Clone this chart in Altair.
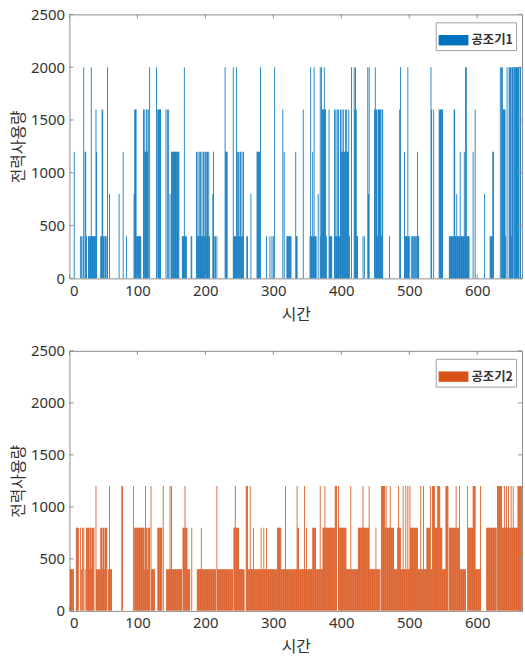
import altair as alt
import numpy as np
import pandas as pd

N = 665
X_MAX = 666
x_ticks = [0, 100, 200, 300, 400, 500, 600]
y_ticks = [0, 500, 1000, 1500, 2000, 2500]

# (start, end, value) runs of 전력사용량 per time step, applied in order (later overrides)
top_segments = [
    (7, 7, 1200), (16, 16, 400), (18, 18, 400), (20, 20, 400), (21, 21, 2000),
    (23, 24, 1200), (25, 25, 400), (28, 31, 400), (32, 32, 2000), (33, 38, 400),
    (39, 39, 1600), (40, 40, 1200), (46, 47, 400), (48, 49, 1600), (50, 50, 400),
    (52, 53, 400), (55, 55, 400), (56, 56, 2000), (59, 59, 800), (73, 73, 800),
    (79, 79, 1200), (84, 84, 400), (95, 95, 800), (96, 98, 1600), (99, 105, 400),
    (109, 110, 1600), (111, 112, 1200), (113, 114, 1600), (115, 115, 1200),
    (116, 116, 1600), (118, 118, 2000), (128, 128, 2000), (130, 134, 1600),
    (142, 142, 1600), (144, 144, 1600), (146, 146, 1600), (148, 148, 800),
    (150, 161, 1200), (166, 172, 400), (169, 169, 2000), (179, 180, 400),
    (187, 206, 400), (187, 187, 1200), (189, 189, 1200), (191, 191, 1200),
    (193, 193, 1200), (195, 195, 1200), (197, 198, 1200), (200, 200, 1200),
    (202, 203, 1200), (205, 205, 1200), (211, 211, 800), (212, 212, 1200),
    (213, 213, 400), (215, 215, 400), (217, 217, 400), (229, 229, 2000),
    (230, 232, 1200), (241, 241, 2000), (242, 245, 400), (246, 246, 2000),
    (247, 256, 400), (247, 247, 1200), (249, 249, 1200), (251, 252, 1200),
    (254, 254, 1200), (256, 256, 1200), (261, 262, 400), (267, 267, 800),
    (276, 280, 1200), (281, 281, 2000), (290, 290, 400), (295, 295, 400),
    (298, 298, 400), (300, 300, 400), (302, 302, 2000), (314, 314, 1600),
    (316, 316, 1200), (320, 326, 400), (333, 333, 1200), (334, 335, 400),
    (344, 344, 1600), (354, 363, 400), (355, 355, 2000), (358, 358, 1200),
    (360, 360, 2000), (366, 366, 800), (369, 369, 2000), (370, 370, 400),
    (371, 371, 2000), (372, 374, 1600), (375, 375, 2000), (376, 377, 1600),
    (378, 378, 400), (382, 382, 1600), (383, 386, 400), (390, 412, 400),
    (390, 390, 1600), (392, 392, 1600), (394, 394, 1600), (396, 396, 1600),
    (399, 399, 1600), (400, 400, 1200), (401, 401, 1600), (402, 402, 1200),
    (403, 403, 1600), (404, 405, 1200), (406, 406, 1600), (407, 407, 1200),
    (408, 408, 1600), (409, 410, 1200), (411, 411, 1600), (415, 415, 2000),
    (419, 419, 2000), (420, 420, 1600), (421, 421, 2000), (422, 422, 1600),
    (423, 424, 400), (432, 432, 400), (434, 434, 400), (439, 439, 2000),
    (440, 440, 800), (441, 441, 2000), (449, 461, 1600), (450, 450, 2000),
    (453, 453, 400), (459, 459, 400), (471, 471, 400), (486, 486, 1600),
    (487, 487, 2000), (493, 493, 1200), (494, 500, 400), (498, 498, 2000),
    (503, 503, 400), (505, 506, 400), (508, 509, 400), (511, 511, 400),
    (512, 512, 1200), (513, 514, 400), (532, 532, 2000), (533, 533, 1600),
    (536, 536, 1600), (544, 549, 1600), (559, 588, 400), (566, 567, 1600),
    (570, 570, 800), (575, 575, 1200), (581, 581, 1200), (583, 584, 2000),
    (594, 594, 1200), (597, 597, 1600), (611, 611, 800), (619, 622, 400),
    (623, 624, 1200), (634, 634, 2000), (636, 637, 2000), (638, 641, 1600),
    (642, 642, 400), (644, 644, 2000), (647, 649, 2000), (650, 650, 400),
    (651, 653, 2000), (655, 661, 2000), (663, 664, 2000),
]

bottom_segments = [
    (1, 6, 400), (10, 13, 800), (16, 16, 800), (18, 18, 400), (19, 19, 800),
    (21, 21, 800), (23, 23, 400), (25, 36, 800), (30, 30, 400), (33, 33, 400),
    (39, 39, 1200), (40, 45, 400), (46, 55, 800), (49, 49, 400), (52, 52, 400),
    (57, 62, 400), (59, 59, 1200), (77, 78, 1200), (94, 94, 1200),
    (96, 118, 800), (110, 110, 400), (115, 115, 400), (112, 112, 1200),
    (120, 120, 1200), (121, 125, 400), (130, 136, 800), (138, 138, 1200),
    (143, 165, 400), (148, 148, 1200), (150, 150, 1200), (167, 173, 800),
    (170, 170, 1200), (174, 177, 400), (180, 180, 800), (188, 215, 400),
    (194, 194, 800), (217, 217, 1200), (218, 240, 400), (242, 249, 800),
    (244, 244, 1200), (250, 257, 400), (260, 262, 1200), (263, 270, 400),
    (266, 266, 1200), (271, 271, 800), (272, 305, 400), (282, 282, 800),
    (286, 286, 800), (290, 290, 800), (306, 311, 800), (312, 317, 400),
    (318, 318, 1200), (319, 357, 400), (335, 335, 1200), (336, 337, 800),
    (346, 346, 1200), (349, 349, 800), (358, 362, 800), (363, 372, 400),
    (369, 369, 1200), (373, 390, 800), (376, 376, 1200), (391, 393, 1200),
    (396, 396, 1200), (397, 407, 800), (408, 424, 400), (414, 414, 1200),
    (425, 440, 800), (432, 432, 1200), (441, 441, 1200), (442, 457, 400),
    (451, 451, 800), (459, 464, 1200), (465, 465, 800), (466, 466, 1200),
    (467, 470, 800), (471, 500, 400), (471, 477, 800), (472, 472, 1200),
    (483, 487, 800), (484, 484, 1200), (491, 491, 1200), (495, 495, 1200),
    (498, 498, 1200), (501, 512, 800), (501, 501, 1200), (513, 530, 400),
    (517, 517, 1200), (521, 521, 1200), (526, 530, 800), (531, 531, 1200),
    (532, 533, 400), (534, 537, 1200), (538, 548, 800), (542, 545, 1200),
    (549, 556, 400), (554, 557, 1200), (559, 574, 800), (569, 569, 1200),
    (574, 574, 1200), (575, 583, 400), (586, 593, 800), (586, 586, 1200),
    (594, 597, 1200), (598, 604, 400), (605, 605, 1200), (614, 628, 800),
    (630, 636, 1200), (637, 665, 800), (640, 640, 1200), (643, 643, 1200),
    (646, 646, 1200), (650, 650, 1200), (653, 653, 1200), (660, 665, 1200),
]

series_names = ["공조기1", "공조기2"]
series_colors = ["#0072BD", "#D95319"]


def expand(segments, name):
    v = np.zeros(N + 1)
    for s, e, val in segments:
        v[s:e + 1] = val
    df = pd.DataFrame({"t": np.arange(1, N + 1), "v": v[1:], "s": name})
    return df[df["v"] > 0]


FRAME = "#8c8c8c"
LABEL_FONT = "Noto Sans"
KR_FONT = "Noto Sans CJK KR"


def panel(df, name, color, W, H):
    xs = alt.Scale(domain=[0, X_MAX], nice=False, zero=False)
    ys = alt.Scale(domain=[0, 2500], nice=False)
    bars = alt.Chart(df).transform_calculate(
        x0="datum.t - 0.6", x1="datum.t + 0.6"
    ).mark_bar(clip=True, strokeWidth=0).encode(
        x=alt.X("x0:Q", scale=xs, axis=alt.Axis(values=x_ticks, title="시간", format="d")),
        x2="x1:Q",
        y=alt.Y("v:Q", scale=ys, axis=alt.Axis(values=y_ticks, title="전력사용량", format="d")),
        y2=alt.datum(0),
        color=alt.Color(
            "s:N",
            scale=alt.Scale(domain=[name], range=[color]),
            legend=alt.Legend(
                title=None, orient="none", legendX=W - 87, legendY=8,
                symbolType="M-1,-0.35H1V0.35H-1Z", symbolSize=900,
                symbolStrokeWidth=0, symbolOpacity=1,
                labelFont=KR_FONT, labelFontSize=12.5, labelFontWeight="bold",
                labelColor="#333333", labelOffset=3,
                fillColor="white", strokeColor="#a0a0a0", padding=3,
            ),
        ),
    )
    ytk = pd.DataFrame({"v": y_ticks})
    xtk = pd.DataFrame({"x0": x_ticks})
    ytl = alt.Chart(ytk).mark_rule(color=FRAME).encode(
        y=alt.Y("v:Q", scale=ys), x=alt.value(0), x2=alt.value(4))
    ytr = alt.Chart(ytk).mark_rule(color=FRAME).encode(
        y=alt.Y("v:Q", scale=ys), x=alt.value(W - 4), x2=alt.value(W))
    xtb = alt.Chart(xtk).mark_rule(color=FRAME).encode(
        x=alt.X("x0:Q", scale=xs), y=alt.value(H - 4), y2=alt.value(H))
    xtt = alt.Chart(xtk).mark_rule(color=FRAME).encode(
        x=alt.X("x0:Q", scale=xs), y=alt.value(0), y2=alt.value(4))
    return alt.layer(bars, ytl, ytr, xtb, xtt).properties(width=W, height=H)


top = panel(expand(top_segments, series_names[0]), series_names[0], series_colors[0], 456, 266)
bottom = panel(expand(bottom_segments, series_names[1]), series_names[1], series_colors[1], 456, 262)

chart = alt.vconcat(top, bottom, spacing=20).resolve_scale(
    color="independent", x="independent", y="independent"
).resolve_legend(color="independent").properties(
    padding={"left": 10, "top": 4, "right": 2, "bottom": 1}, background="white"
).configure_view(
    stroke=FRAME, strokeWidth=1
).configure_axis(
    domain=False, ticks=False, grid=False,
    labelFont=LABEL_FONT, labelFontSize=15, labelColor="#333333", labelPadding=5,
    titleFont=KR_FONT, titleFontSize=16, titleFontWeight="normal", titleColor="#333333",
).configure_axisX(
    titlePadding=8
).configure_axisY(
    titlePadding=4
)

chart.save("out.html", embed_options={"renderer": "svg", "actions": False})
